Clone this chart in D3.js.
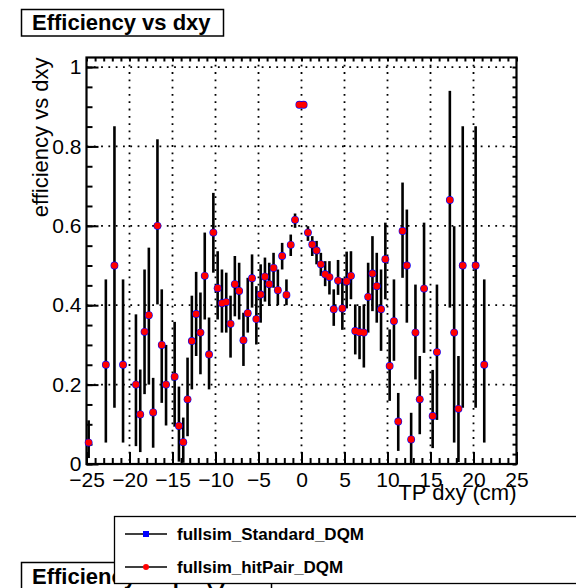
<!DOCTYPE html>
<html>
<head>
<meta charset="utf-8">
<script src="https://cdnjs.cloudflare.com/ajax/libs/d3/7.8.5/d3.min.js"></script>
<style>
  body { margin: 0; background: #fff; }
  text { font-family: "Liberation Sans", Arial, Helvetica, sans-serif; }
</style>
</head>
<body>
<div id="chart"></div>
<script>
// bin centres of TP dxy (cm) that have entries
var dxyBins = [-24.75, -22.75, -21.75, -20.75, -19.25, -18.75, -18.25, -17.75, -17.25, -16.75,
  -16.25, -15.75, -14.75, -14.25, -13.75, -13.25, -12.75, -12.25, -11.75, -11.25,
  -10.75, -10.25, -9.75, -9.25, -8.75, -8.25, -7.75, -7.25, -6.75, -6.25,
  -5.75, -5.25, -4.75, -4.25, -3.75, -3.25, -2.75, -2.25, -1.75, -1.25,
  -0.75, -0.25, 0.25, 0.75, 1.25, 1.75, 2.25, 2.75, 3.25, 3.75,
  4.25, 4.75, 5.25, 5.75, 6.25, 6.75, 7.25, 7.75, 8.25, 8.75,
  9.25, 9.75, 10.25, 10.75, 11.25, 11.75, 12.25, 12.75, 13.25, 13.75,
  14.25, 15.25, 15.75, 17.25, 17.75, 18.25, 18.75, 20.25, 21.25];

var effValues = [0.054, 0.25, 0.5, 0.25, 0.2, 0.125, 0.333, 0.375, 0.13, 0.6,
  0.3, 0.2, 0.22, 0.096, 0.055, 0.163, 0.31, 0.378, 0.331, 0.474,
  0.276, 0.583, 0.443, 0.405, 0.408, 0.353, 0.453, 0.436, 0.312, 0.38,
  0.468, 0.365, 0.427, 0.472, 0.453, 0.494, 0.438, 0.524, 0.426, 0.552,
  0.615, 0.905, 0.905, 0.583, 0.553, 0.538, 0.503, 0.478, 0.471, 0.39,
  0.462, 0.392, 0.46, 0.474, 0.335, 0.332, 0.331, 0.421, 0.48, 0.448,
  0.39, 0.516, 0.247, 0.36, 0.107, 0.587, 0.5, 0.062, 0.331, 0.163,
  0.442, 0.121, 0.282, 0.665, 0.331, 0.139, 0.5, 0.5, 0.25];

// lower / upper ends of the asymmetric error bars
var effLow = [0.015, 0.054, 0.142, 0.054, 0.045, 0.03, 0.176, 0.2, 0.041, 0.402,
  0.154, 0.097, 0.094, 0.006, 0.003, 0.07, 0.188, 0.272, 0.226, 0.364,
  0.188, 0.482, 0.364, 0.331, 0.331, 0.268, 0.372, 0.364, 0.247, 0.331,
  0.394, 0.301, 0.356, 0.409, 0.398, 0.444, 0.4, 0.49, 0.4, 0.524,
  0.595, 0.9, 0.9, 0.562, 0.524, 0.503, 0.474, 0.448, 0.427, 0.348,
  0.426, 0.338, 0.392, 0.415, 0.276, 0.264, 0.243, 0.331, 0.385, 0.356,
  0.285, 0.415, 0.159, 0.26, 0.033, 0.469, 0.356, 0.0, 0.213, 0.075,
  0.28, 0.04, 0.111, 0.394, 0.054, 0.005, 0.142, 0.142, 0.054];

var effHigh = [0.11, 0.465, 0.851, 0.465, 0.377, 0.238, 0.49, 0.545, 0.217, 0.818,
  0.44, 0.3, 0.358, 0.195, 0.117, 0.268, 0.424, 0.484, 0.432, 0.583,
  0.369, 0.683, 0.536, 0.49, 0.482, 0.424, 0.524, 0.507, 0.381, 0.469,
  0.528, 0.448, 0.503, 0.52, 0.507, 0.532, 0.49, 0.557, 0.465, 0.578,
  0.631, 0.91, 0.91, 0.599, 0.574, 0.562, 0.532, 0.511, 0.511, 0.44,
  0.514, 0.468, 0.535, 0.536, 0.402, 0.398, 0.402, 0.507, 0.574, 0.532,
  0.49, 0.608, 0.339, 0.465, 0.179, 0.709, 0.641, 0.129, 0.452, 0.272,
  0.608, 0.237, 0.452, 0.94, 0.599, 0.272, 0.851, 0.851, 0.465];

var seriesNames = ["fullsim_Standard_DQM", "fullsim_hitPair_DQM"];
var seriesColors = ["#0000ff", "#ff0000"];
var xTicks = [-25, -20, -15, -10, -5, 0, 5, 10, 15, 20, 25];
var yTicks = [0, 0.2, 0.4, 0.6, 0.8, 1];

var svgWidth = 576;
var svgHeight = 588;

var margin = { top: 57.5, right: 59.5, bottom: 124, left: 86.5 };
var width = svgWidth - margin.left - margin.right;
var height = svgHeight - margin.top - margin.bottom;

var svg = d3.select("#chart")
  .append("svg")
  .attr("width", svgWidth)
  .attr("height", svgHeight)
  .style("background", "#fff");

var points = dxyBins.map(function(x, i) {
  return { x: x, y: effValues[i], lo: effLow[i], hi: effHigh[i] };
});

var xScale = d3.scaleLinear().domain([-25, 25]).range([0, width]);
var yScale = d3.scaleLinear().domain([0, 1.024]).range([height, 0]);

// title box
svg.append("rect")
  .attr("x", 21.5).attr("y", 9.5)
  .attr("width", 202).attr("height", 26.5)
  .attr("fill", "#fff").attr("stroke", "#000").attr("stroke-width", 1.5);
svg.append("text")
  .attr("x", 32).attr("y", 29.5)
  .attr("font-size", 22).attr("font-weight", "bold")
  .text("Efficiency vs dxy");

var chartGroup = svg.append("g")
  .attr("transform", `translate(${margin.left}, ${margin.top})`);

// dotted grid
chartGroup.append("g").selectAll("line")
  .data(xTicks.slice(1, -1))
  .enter().append("line")
  .attr("x1", d => xScale(d)).attr("x2", d => xScale(d))
  .attr("y1", 0).attr("y2", height)
  .attr("stroke", "#000").attr("stroke-width", 1.8)
  .attr("stroke-dasharray", "1.8,5.5");
chartGroup.append("g").selectAll("line")
  .data(yTicks.slice(1))
  .enter().append("line")
  .attr("x1", 0).attr("x2", width)
  .attr("y1", d => yScale(d)).attr("y2", d => yScale(d))
  .attr("stroke", "#000").attr("stroke-width", 1.8)
  .attr("stroke-dasharray", "1.8,5.5");

// axes (ticks point inside, ROOT style)
var xAxis = d3.axisBottom(xScale).tickValues(xTicks).tickSize(-12).tickPadding(8)
  .tickFormat(d3.format("d"));
var xMinor = d3.axisBottom(xScale).ticks(50).tickSize(-6).tickFormat("");
var yAxis = d3.axisLeft(yScale).tickValues(yTicks).tickSize(-12).tickPadding(5)
  .tickFormat(d => d === 0 ? "0" : d === 1 ? "1" : d3.format(".1f")(d));
var yMinor = d3.axisLeft(yScale).tickValues(d3.range(0, 1.02, 0.05)).tickSize(-6).tickFormat("");
var xTop = d3.axisTop(xScale).ticks(50).tickSize(-4).tickFormat("");
var yRight = d3.axisRight(yScale).tickValues(d3.range(0, 1.02, 0.025)).tickSize(-4).tickFormat("");

[xMinor, xAxis].forEach(function(ax) {
  chartGroup.append("g").attr("class", "axis")
    .attr("transform", `translate(0, ${height})`).call(ax);
});
[yMinor, yAxis].forEach(function(ax) {
  chartGroup.append("g").attr("class", "axis").call(ax);
});
chartGroup.append("g").attr("class", "axis").call(xTop);
chartGroup.append("g").attr("class", "axis")
  .attr("transform", `translate(${width}, 0)`).call(yRight);

chartGroup.selectAll(".axis path").remove();
chartGroup.selectAll(".axis line").attr("stroke", "#000").attr("stroke-width", 2);
chartGroup.selectAll(".axis text")
  .attr("font-size", 21).attr("fill", "#000")
  .style("font-family", "'Liberation Sans', Arial, sans-serif");

// frame
chartGroup.append("rect")
  .attr("x", 0).attr("y", 0).attr("width", width).attr("height", height)
  .attr("fill", "none").attr("stroke", "#000").attr("stroke-width", 2.2);

// error bars, then markers of both series (blue drawn first, red on top)
chartGroup.append("g").selectAll("line")
  .data(points)
  .enter().append("line")
  .attr("x1", d => xScale(d.x)).attr("x2", d => xScale(d.x))
  .attr("y1", d => yScale(d.lo)).attr("y2", d => yScale(d.hi))
  .attr("stroke", "#000").attr("stroke-width", 2.6);

seriesColors.forEach(function(c, k) {
  chartGroup.append("g").selectAll("circle")
    .data(points)
    .enter().append("circle")
    .attr("cx", d => xScale(d.x))
    .attr("cy", d => yScale(d.y))
    .attr("r", k === 0 ? 3.9 : 3.3)
    .attr("fill", c);
});

// axis titles
svg.append("text")
  .attr("x", margin.left + width).attr("y", 500)
  .attr("text-anchor", "end").attr("font-size", 22)
  .text("TP dxy (cm)");
svg.append("text")
  .attr("transform", `translate(48, ${margin.top}) rotate(-90)`)
  .attr("text-anchor", "end").attr("font-size", 22)
  .text("efficiency vs dxy");

// second pad title peeking below
svg.append("rect")
  .attr("x", 21.5).attr("y", 562.5)
  .attr("width", 250).attr("height", 40)
  .attr("fill", "#fff").attr("stroke", "#000").attr("stroke-width", 1.5);
svg.append("text")
  .attr("x", 32).attr("y", 584)
  .attr("font-size", 22).attr("font-weight", "bold")
  .text("Efficiency vs pT (/)");

// legend
var legend = svg.append("g");
legend.append("rect")
  .attr("x", 114.5).attr("y", 516.5)
  .attr("width", 500).attr("height", 67)
  .attr("fill", "#fff").attr("stroke", "#000").attr("stroke-width", 1.3);
var legendY = [534, 567];
seriesNames.forEach(function(name, k) {
  legend.append("line")
    .attr("x1", 125).attr("x2", 167)
    .attr("y1", legendY[k]).attr("y2", legendY[k])
    .attr("stroke", "#000").attr("stroke-width", 1.5);
  if (k === 0) {
    legend.append("rect")
      .attr("x", 143).attr("y", legendY[k] - 3).attr("width", 6).attr("height", 6)
      .attr("fill", seriesColors[k]);
  } else {
    legend.append("circle")
      .attr("cx", 146).attr("cy", legendY[k]).attr("r", 3)
      .attr("fill", seriesColors[k]);
  }
  legend.append("text")
    .attr("x", 177).attr("y", legendY[k] + 6)
    .attr("font-size", 17).attr("font-weight", "bold")
    .text(name);
});
</script>
</body>
</html>
